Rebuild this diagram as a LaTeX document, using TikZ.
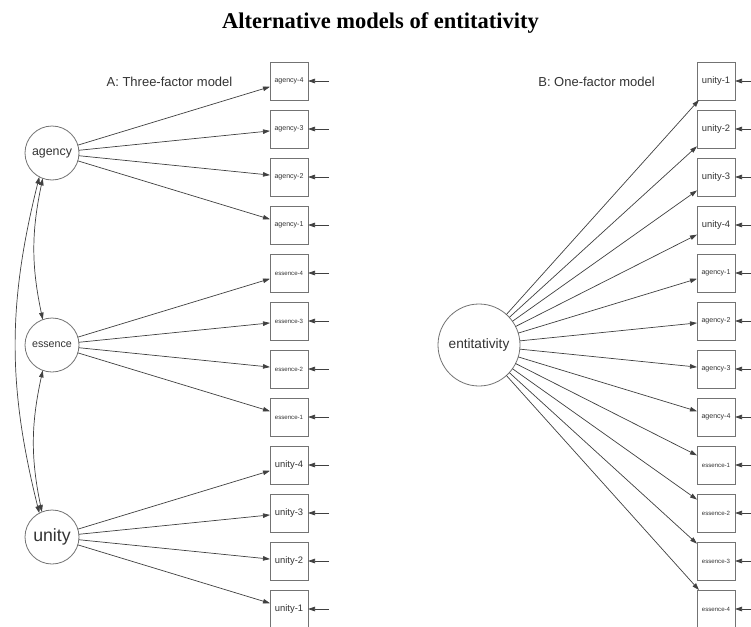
\documentclass[tikz,border=0pt]{standalone}
\usepackage{fontspec}
\setmainfont{Liberation Sans}
\newfontfamily\titlefont{Liberation Serif}
\usetikzlibrary{arrows.meta}
\begin{document}
\begin{tikzpicture}[x=1pt,y=-1pt,
  lat/.style={circle,draw=black!55,line width=0.8pt,minimum size=#1,inner sep=0pt,outer sep=0pt,text=black!80},
  ind/.style={rectangle,draw=black!55,line width=0.8pt,minimum size=38pt,inner sep=0pt,outer sep=0pt,text=black!80},
  load/.style={draw=black!75,line width=0.7pt,-{Triangle[length=7pt,width=4.5pt]}},
  cov/.style={draw=black!75,line width=0.7pt,{Triangle[length=7pt,width=4.5pt]}-{Triangle[length=7pt,width=4.5pt]}},
  lbl/.style={anchor=base,text=black!80,font=\fontsize{13}{15}\selectfont},
]
\useasboundingbox[fill=white] (0,0) rectangle (751,626);

\node[anchor=base,font=\titlefont\bfseries\fontsize{22.5}{26}\selectfont] (title) at (380.5,29) {Alternative models of entitativity};
\node[lbl] (labA) at (169.5,86) {A: Three-factor model};
\node[lbl] (labB) at (596.5,86) {B: One-factor model};

% Panel A
\node[lat=54pt,font=\fontsize{12.4}{14}\selectfont] (agency) at (52,153) {agency};
\node[lat=54pt,font=\fontsize{10.7}{12}\selectfont] (essence) at (52,345) {essence};
\node[lat=54pt,font=\fontsize{17.7}{20}\selectfont] (unity) at (52,537) {unity};

\foreach \lab/\fs [count=\i] in {agency-4/7.05,agency-3/7.05,agency-2/7.05,agency-1/7.05,
  essence-4/6.1,essence-3/6.1,essence-2/6.1,essence-1/6.1,
  unity-4/9.4,unity-3/9.4,unity-2/9.4,unity-1/9.4}{
  \node[ind,font=\fontsize{\fs}{\fs}\selectfont] (l\i) at (289,{33+48*\i}) {\lab};
  \coordinate (le\i) at (329,{33+48*\i});
  \draw[load] (le\i) -- (l\i);
}
\foreach \i in {1,...,4}{\draw[load] (agency) -- (l\i);}
\foreach \i in {5,...,8}{\draw[load] (essence) -- (l\i);}
\foreach \i in {9,...,12}{\draw[load] (unity) -- (l\i);}

\draw[cov] (agency.250) to[bend right=12] (essence.110);
\draw[cov] (essence.250) to[bend right=12] (unity.112);
\draw[cov] (agency.242) to[bend right=14] (unity.118);

% Panel B
\node[lat=82pt,font=\fontsize{13.65}{16}\selectfont] (ent) at (479,345) {entitativity};
\foreach \lab/\fs [count=\i] in {unity-1/9.4,unity-2/9.4,unity-3/9.4,unity-4/9.4,
  agency-1/7.05,agency-2/7.05,agency-3/7.05,agency-4/7.05,
  essence-1/6.1,essence-2/6.1,essence-3/6.1,essence-4/6.1}{
  \node[ind,font=\fontsize{\fs}{\fs}\selectfont] (r\i) at (716,{33+48*\i}) {\lab};
  \coordinate (re\i) at (752,{33+48*\i});
  \draw[load] (re\i) -- (r\i);
  \draw[load] (ent) -- (r\i);
}
\end{tikzpicture}
\end{document}
